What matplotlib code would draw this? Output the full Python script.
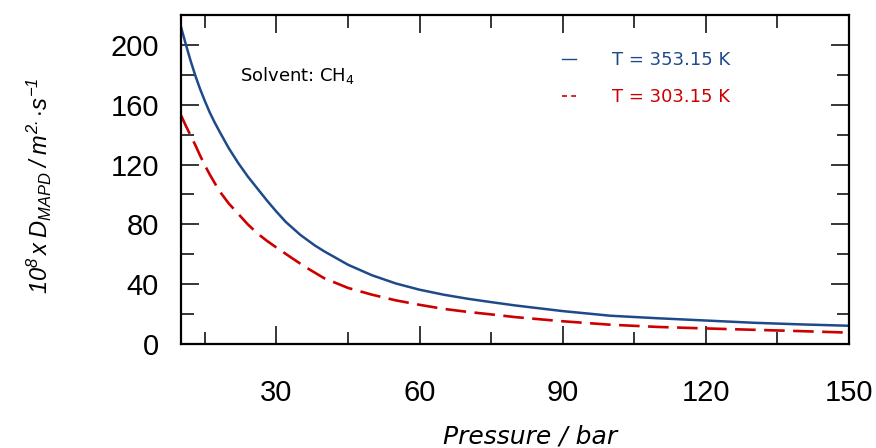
import matplotlib
matplotlib.use("Agg")
import matplotlib.pyplot as plt
from matplotlib.lines import Line2D
from matplotlib.ticker import MultipleLocator

# values
pressure_353 = [10, 11, 12, 13, 14, 15, 16, 17, 18, 20, 22, 24, 26, 28, 30, 32, 35, 38,
                40, 45, 50, 55, 60, 65, 70, 75, 80, 90, 100, 110, 120, 130, 140, 150]
diff_353 = [212, 200.5, 189.5, 179.5, 170.5, 162.5, 155, 148.5, 142.5, 131, 121, 112, 104,
            96, 88.5, 81.5, 73, 66, 62, 53, 46, 40.5, 36.3, 33, 30.3, 28, 25.8, 22, 18.9,
            17.2, 15.7, 14.2, 13.1, 12.2]

pressure_303 = [10, 11, 12, 13, 14, 15, 16, 18, 20, 22, 24, 26, 28, 30, 33, 36, 40, 45,
                50, 55, 60, 65, 70, 75, 80, 90, 100, 110, 120, 130, 140, 150]
diff_303 = [153, 146, 139.5, 133, 126, 119.5, 113.5, 102.5, 94, 87, 80, 74, 69, 64.5, 58,
            51.6, 44, 37.5, 33, 29.2, 26.2, 23.5, 21.5, 19.8, 18, 15.2, 12.9, 11.4, 10.4,
            9.5, 8.6, 7.6]

labels = ["T = 353.15 K", "T = 303.15 K"]
blue = "#1f4a8a"
red = "#cc0000"

plt.rcParams["mathtext.fontset"] = "custom"
plt.rcParams["mathtext.it"] = "Liberation Sans:italic"
plt.rcParams["mathtext.rm"] = "Liberation Sans:italic"
plt.rcParams["mathtext.default"] = "it"

fig = plt.figure(figsize=(8.76, 4.48), dpi=100)
ax = fig.add_axes([181/876, 104/448, 668/876, 329/448])

ax.plot(pressure_353, diff_353, color=blue, lw=1.8)
ax.plot(pressure_303, diff_303, color=red, lw=1.9, dashes=(7.8, 3.2))

ax.set_xlim(10, 150)
ax.set_ylim(0, 220)
ax.xaxis.set_major_locator(MultipleLocator(30))
ax.xaxis.set_minor_locator(MultipleLocator(15))
ax.yaxis.set_major_locator(MultipleLocator(40))
ax.yaxis.set_minor_locator(MultipleLocator(20))

ax.tick_params(which="both", direction="in", top=True, right=True, width=1.1)
ax.tick_params(which="major", length=13)
ax.tick_params(which="minor", length=9)
ax.tick_params(axis="x", which="major", pad=25)
ax.tick_params(axis="y", which="major", pad=16)
for lab in ax.get_xticklabels() + ax.get_yticklabels():
    lab.set_fontfamily("Liberation Sans")
    lab.set_fontsize(21)
for s in ax.spines.values():
    s.set_linewidth(1.6)

ax.set_xlabel("Pressure / bar", fontsize=18, style="italic", family="DejaVu Sans")
ax.xaxis.set_label_coords(0.522, -0.245)
ax.set_ylabel(r"$10^8\,x\;D_{MAPD}\;/\;m^{2.}{\cdot}s^{-1}$", fontsize=17)
ax.yaxis.set_label_coords(-0.19, 0.48)

fig.text(240/876, 1 - 75/448, r"Solvent: CH$_\mathregular{4}$", fontsize=13,
         family="DejaVu Sans", va="center")

handles = [Line2D([], [], color=blue, lw=1.0),
           Line2D([], [], color=red, lw=1.2, dashes=(3, 2.5))]
ax.legend(handles, labels, loc="upper left", bbox_to_anchor=(0.570, 0.89),
          frameon=False, borderpad=0, borderaxespad=0, fontsize=13,
          handlelength=0.78, handletextpad=2.0, labelspacing=1.05,
          labelcolor=[blue, red])

fig.savefig("out.png", dpi=100)
